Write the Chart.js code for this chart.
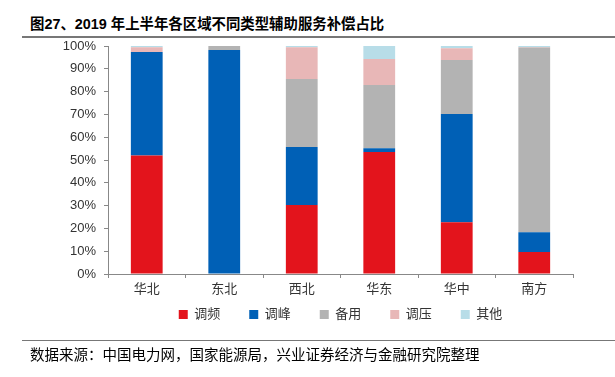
<!DOCTYPE html>
<html>
<head>
<meta charset="utf-8">
<script src="https://cdn.jsdelivr.net/npm/chart.js@4"></script>
<style>
  body { margin: 0; background: #fff; }
  #wrap { position: relative; width: 615px; height: 377px; overflow: hidden; font-family: "Liberation Sans", "Noto Sans CJK SC", sans-serif; }
  #title { position: absolute; left: 30px; top: 12px; font-size: 14.4px; font-weight: bold; color: #000; }
  #topline { position: absolute; left: 22px; right: 0; top: 36px; height: 2px; background: #777; }
  #botline { position: absolute; left: 22px; right: 0; top: 340px; height: 1px; background: #777; }
  #source { position: absolute; left: 30px; top: 343px; font-size: 14.5px; color: #000; }
  #chart-holder { position: absolute; left: 0; top: 0; width: 615px; height: 377px; }
</style>
</head>
<body>
<div id="wrap">
  <div id="title">图27、2019 年上半年各区域不同类型辅助服务补偿占比</div>
  <div id="topline"></div>
  <div id="chart-holder"><canvas id="chart" width="615" height="377"></canvas></div>
  <div id="botline"></div>
  <div id="source">数据来源：中国电力网，国家能源局，兴业证券经济与金融研究院整理</div>
</div>
<script>
var regions = ['华北', '东北', '西北', '华东', '华中', '南方'];

// percent share of each compensation type
var tiaopin  = [52.0, 0,    30.3, 53.5, 22.7, 9.6];
var tiaofeng = [45.4, 98.2, 25.4, 1.6,  47.5, 8.7];
var beiyong  = [0,    1.8,  29.8, 27.8, 23.7, 81.0];
var tiaoya   = [2.1,  0,    13.9, 11.4, 5.1,  0.3];
var qita     = [0.5,  0,    0.6,  5.7,  1.0,  0.4];

var colours = ['#E3141C', '#0060B6', '#B3B3B3', '#E8B7B7', '#B8DDE8'];
var fontFamily = '"Liberation Sans", "Noto Sans CJK SC", sans-serif';

function ds(label, values, i) {
  return {
    label: label,
    data: values,
    backgroundColor: colours[i],
    borderWidth: 0,
    barPercentage: 0.41,
    categoryPercentage: 1
  };
}

var data = {
  labels: regions,
  datasets: [
    ds('调频', tiaopin, 0),
    ds('调峰', tiaofeng, 1),
    ds('备用', beiyong, 2),
    ds('调压', tiaoya, 3),
    ds('其他', qita, 4)
  ]
};

// wide legend padding is only wanted sideways, so pull the legend back up
var legendLift = {
  id: 'legendLift',
  beforeDraw: function (chart) {
    if (chart.legend) {
      chart.legend.top -= 23;
      chart.legend.bottom -= 23;
    }
  }
};

var ctx = document.getElementById('chart').getContext('2d');
var chart = new Chart(ctx, {
  type: 'bar',
  data: data,
  plugins: [legendLift],
  options: {
    responsive: false,
    animation: false,
    layout: { padding: { left: 0, right: 42, top: 46, bottom: 23 } },
    plugins: {
      legend: {
        position: 'bottom',
        fullSize: false,
        labels: {
          boxWidth: 9,
          boxHeight: 9,
          padding: 29,
          color: '#333',
          font: { family: fontFamily, size: 13 }
        }
      },
      tooltip: { enabled: false }
    },
    scales: {
      x: {
        stacked: true,
        grid: { display: true, drawOnChartArea: false, drawTicks: true, tickLength: 4, color: '#888' },
        border: { color: '#888' },
        ticks: { color: '#333', padding: 4, maxRotation: 0, font: { family: fontFamily, size: 13 } },
        afterFit: function (s) { s.height = 28; }
      },
      y: {
        stacked: true,
        min: 0,
        max: 100,
        grid: { display: true, drawOnChartArea: false, drawTicks: true, tickLength: 4, color: '#888' },
        border: { color: '#888' },
        ticks: {
          stepSize: 10,
          color: '#333',
          padding: 8,
          font: { family: fontFamily, size: 13 },
          callback: function (v) { return v + '%'; }
        },
        afterFit: function (s) { s.width = 108; }
      }
    }
  }
});
</script>
</body>
</html>
